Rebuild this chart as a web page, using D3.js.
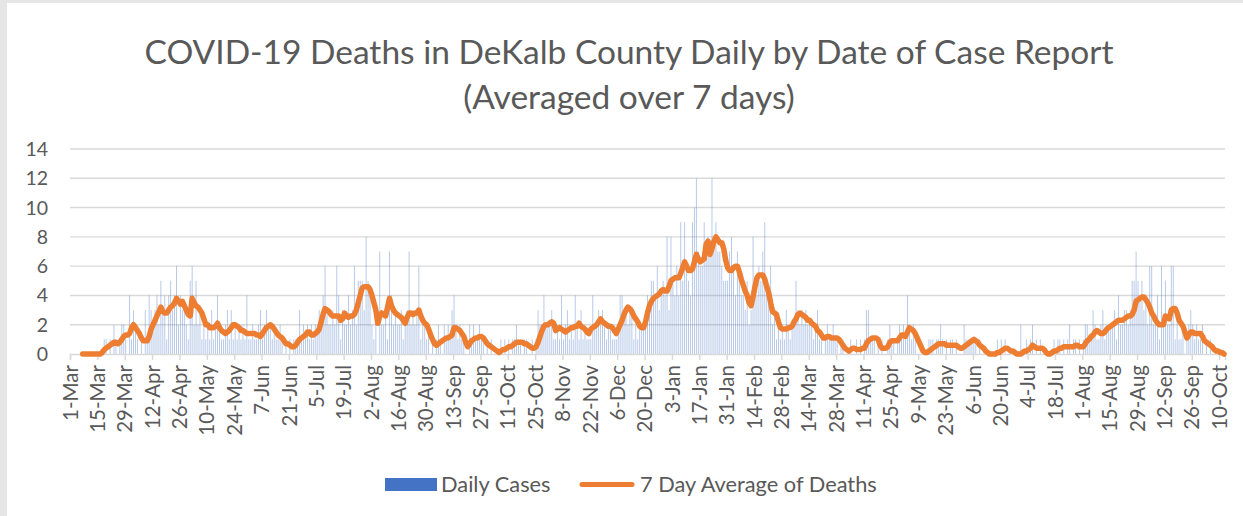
<!DOCTYPE html>
<html>
<head>
<meta charset="utf-8">
<script src="https://cdn.jsdelivr.net/npm/d3@7"></script>
<style>
    html, body { margin: 0; padding: 0; background: #e6e6e6; }
    svg { display: block; }
</style>
</head>
<body>
<div id="chart"></div>
<script>
// daily values start 1-Mar-2020, one per day
var dailyStart = Date.UTC(2020, 2, 1);
var dailyDeaths = [
    0,0,0,0,0,0,0,0,0,0,0,0,0,0,
    0,0,0,1,1,0,1,0,2,1,0,1,2,2,
    1,0,4,1,3,2,1,0,1,0,3,1,4,3,
    2,3,4,2,5,3,4,1,4,5,3,4,6,2,
    4,3,3,2,1,5,6,2,5,2,3,1,2,1,
    2,1,3,1,2,4,2,1,1,2,3,1,3,1,
    2,1,2,1,2,1,4,1,1,2,1,1,2,3,
    1,2,3,2,2,1,2,1,1,2,1,0,1,0,
    1,0,1,1,1,3,1,2,1,2,1,2,1,2,
    2,3,2,4,6,3,2,2,3,2,6,4,1,3,
    2,2,4,2,3,6,2,5,5,5,3,8,5,4,
    2,1,3,0,7,2,2,3,1,7,4,2,3,2,
    2,3,1,2,3,7,2,3,2,3,6,1,2,2,
    1,2,0,1,0,1,2,1,0,2,1,2,1,3,
    4,2,1,2,1,1,0,0,2,1,2,1,1,2,
    1,1,0,1,0,1,0,0,0,0,1,0,1,0,
    1,0,1,1,2,1,1,0,1,1,0,0,1,0,
    1,3,2,2,4,2,2,2,3,1,1,2,1,4,
    1,2,3,1,2,1,4,2,1,3,1,2,1,1,
    1,4,2,2,3,2,3,2,1,2,2,1,1,1,
    2,4,4,3,3,2,3,3,1,2,1,2,2,2,
    3,4,3,5,5,4,6,3,4,5,4,8,3,8,
    5,4,6,4,9,5,9,6,5,4,9,10,12,7,
    6,6,9,7,8,7,12,8,9,7,7,6,5,5,
    5,7,8,6,4,7,6,4,4,3,5,2,3,8,
    5,4,6,5,7,9,5,4,6,2,3,1,2,1,
    2,1,3,2,1,2,2,5,3,2,3,2,3,2,
    2,2,1,2,3,1,1,0,1,2,1,1,2,1,
    1,0,1,1,0,0,0,1,0,0,1,0,1,0,
    1,3,3,1,1,1,0,1,0,1,0,0,1,2,
    1,1,0,1,2,1,2,1,4,2,1,2,1,0,
    0,0,0,0,0,1,1,1,0,1,1,2,1,0,
    1,0,1,1,0,1,0,0,0,2,1,1,1,1,
    1,1,0,1,0,0,0,0,0,0,0,0,1,0,
    1,0,1,0,0,0,0,0,0,0,2,0,0,1,
    0,1,2,0,1,0,1,0,0,0,0,0,0,1,
    0,1,1,0,1,0,1,2,0,1,1,0,1,0,
    1,2,2,1,1,3,2,1,1,2,3,1,2,2,
    2,2,3,1,4,2,2,3,3,2,3,5,5,7,
    5,4,5,3,4,2,6,6,2,2,4,1,6,2,
    5,2,2,6,6,1,3,1,1,2,0,1,2,3,
    2,1,2,1,1,2,0,1,0,1,0,0,0,0,
    0,0,0
];

// 7 day average starts 7-Mar-2020
var avgStart = Date.UTC(2020, 2, 7);
var avgDeaths = [
    0,0,0,0,0,0,0,0,
    0,0,0.1,0.3,0.4,0.5,0.6,0.7,0.8,0.8,0.7,0.8,1.0,1.2,
    1.3,1.3,1.4,1.8,2.0,1.8,1.6,1.4,1.1,0.9,0.9,0.9,1.2,1.7,
    2.0,2.3,2.6,2.9,3.2,2.9,2.8,2.8,3.0,3.2,3.3,3.5,3.8,3.6,
    3.4,3.6,3.3,3.0,2.7,2.6,3.8,3.5,3.3,3.2,3.0,2.8,2.4,2.0,
    2.0,1.8,1.8,1.8,1.9,2.1,1.8,1.6,1.5,1.4,1.5,1.6,1.8,2.0,
    2.0,1.9,1.8,1.6,1.6,1.5,1.4,1.4,1.4,1.4,1.4,1.3,1.3,1.2,
    1.4,1.6,1.8,1.9,2.0,1.9,1.7,1.5,1.3,1.2,1.1,0.9,0.7,0.7,
    0.6,0.5,0.5,0.6,0.8,1.0,1.1,1.2,1.3,1.5,1.5,1.3,1.3,1.4,
    1.5,1.7,2.2,2.7,3.1,3.0,2.9,2.7,2.6,2.6,2.6,2.6,2.3,2.4,
    2.8,2.6,2.5,2.6,2.6,2.7,3.0,3.5,4.0,4.5,4.6,4.6,4.6,4.4,
    4.0,3.5,3.0,2.1,2.6,2.8,2.7,2.6,3.2,3.8,3.3,3.0,2.8,2.7,
    2.6,2.5,2.3,2.1,2.5,2.8,2.8,2.7,2.8,2.8,3.0,2.6,2.3,2.1,
    2.0,1.7,1.3,1.0,0.7,0.6,0.7,0.8,0.9,1.0,1.1,1.1,1.2,1.3,
    1.8,1.8,1.7,1.6,1.4,1.2,0.8,0.5,0.7,0.9,1.0,1.1,1.1,1.2,
    1.2,1.1,0.9,0.7,0.6,0.5,0.4,0.3,0.2,0.1,0.2,0.3,0.3,0.4,
    0.5,0.5,0.6,0.7,0.8,0.8,0.8,0.8,0.7,0.7,0.6,0.5,0.4,0.4,
    0.5,0.8,1.2,1.6,1.9,2.0,2.0,2.1,2.2,2.1,1.6,1.7,1.8,1.7,
    1.6,1.5,1.6,1.7,1.8,1.8,1.9,1.9,2.1,1.9,1.8,1.7,1.5,1.4,
    1.7,1.8,1.9,2.0,2.2,2.4,2.2,2.1,2.0,1.9,1.9,1.8,1.6,1.4,
    1.7,2.0,2.3,2.7,3.0,3.2,3.1,2.9,2.6,2.4,2.2,1.9,1.8,1.8,
    2.2,2.8,3.3,3.6,3.8,3.9,4.0,4.1,4.3,4.4,4.3,4.3,4.6,5.0,
    5.1,5.2,5.2,5.2,5.5,5.9,6.3,6.0,5.7,5.7,5.8,6.3,6.8,6.5,
    6.3,6.4,6.5,7.5,7.7,6.8,7.2,7.7,8.0,7.8,7.6,7.6,7.2,6.4,
    5.9,5.7,5.7,5.9,6.0,6.0,5.6,5.1,4.7,4.3,4.0,3.5,3.3,3.9,
    4.6,5.2,5.4,5.4,5.4,5.1,4.6,4.2,3.5,2.9,2.8,2.7,2.2,1.8,
    1.7,1.7,1.7,1.8,1.8,1.9,2.2,2.4,2.7,2.8,2.7,2.6,2.5,2.3,
    2.3,2.1,2.0,1.9,1.6,1.5,1.3,1.1,1.1,1.2,1.2,1.1,1.1,1.1,
    1.1,1.0,0.8,0.6,0.4,0.3,0.2,0.3,0.4,0.4,0.3,0.3,0.3,0.4,
    0.4,0.7,0.9,1.0,1.1,1.1,1.1,1.0,0.6,0.4,0.4,0.4,0.5,0.8,
    0.9,0.9,0.9,0.9,1.1,1.3,1.3,1.2,1.5,1.8,1.7,1.6,1.4,1.1,
    0.8,0.5,0.2,0.1,0.1,0.2,0.3,0.4,0.5,0.6,0.7,0.7,0.7,0.7,
    0.6,0.6,0.6,0.6,0.6,0.6,0.5,0.4,0.4,0.5,0.6,0.7,0.8,0.9,
    1.0,0.9,0.8,0.6,0.5,0.4,0.2,0.1,0.0,0.0,0.0,0.0,0.1,0.1,
    0.2,0.3,0.4,0.4,0.3,0.2,0.2,0.1,0.0,0.0,0.0,0.1,0.2,0.2,
    0.3,0.4,0.6,0.5,0.4,0.4,0.4,0.4,0.3,0.1,0.0,0.0,0.1,0.2,
    0.2,0.3,0.4,0.4,0.5,0.5,0.5,0.5,0.5,0.5,0.6,0.6,0.5,0.5,
    0.5,0.7,0.9,1.0,1.2,1.3,1.5,1.6,1.5,1.4,1.4,1.5,1.7,1.8,
    1.9,2.0,2.1,2.2,2.3,2.3,2.3,2.4,2.5,2.6,2.6,2.7,3.0,3.6,
    3.7,3.8,3.9,3.9,3.7,3.5,3.2,2.8,2.6,2.3,2.1,2.0,2.0,2.0,
    2.6,2.5,2.4,3.0,3.1,3.1,2.8,2.3,2.1,1.9,1.5,1.1,1.3,1.5,
    1.5,1.4,1.4,1.4,1.4,1.2,0.9,0.8,0.7,0.6,0.5,0.3,0.2,0.2,
    0.1,0.1,0.0
];

var tickLabels = ["1-Mar","15-Mar","29-Mar","12-Apr","26-Apr","10-May","24-May","7-Jun","21-Jun",
    "5-Jul","19-Jul","2-Aug","16-Aug","30-Aug","13-Sep","27-Sep","11-Oct","25-Oct","8-Nov","22-Nov",
    "6-Dec","20-Dec","3-Jan","17-Jan","31-Jan","14-Feb","28-Feb","14-Mar","28-Mar","11-Apr","25-Apr",
    "9-May","23-May","6-Jun","20-Jun","4-Jul","18-Jul","1-Aug","15-Aug","29-Aug","12-Sep","26-Sep","10-Oct"];
var yTicks = [0, 2, 4, 6, 8, 10, 12, 14];

var titleLines = ["COVID-19 Deaths in DeKalb County Daily by Date of Case Report", "(Averaged over 7 days)"];
var seriesNames = ["Daily Cases", "7 Day Average of Deaths"];

var width = 1243,
    height = 516,
    margin = {top: 149, right: 18, bottom: 162, left: 70},
    DAY = 864e5,
    textColor = "#595959",
    gridColor = "#d9d9d9",
    barColor = "#4472C4",
    lineColor = "#ED7D31",
    font = "Lato, 'Open Sans', sans-serif";

var svg = d3.select("#chart").append("svg")
    .attr("width", width)
    .attr("height", height);

svg.append("rect")
    .attr("x", 7).attr("y", 3)
    .attr("width", width - 7).attr("height", height - 3)
    .attr("fill", "#fff");

var x = d3.scaleUtc()
    .domain([new Date(dailyStart), new Date(dailyStart + dailyDeaths.length * DAY)])
    .range([margin.left, width - margin.right]);

var y = d3.scaleLinear()
    .domain([0, 14])
    .range([height - margin.bottom, margin.top]);

// title
svg.append("g").selectAll("text")
    .data(titleLines)
    .enter().append("text")
    .attr("x", 629)
    .attr("y", function(d, i) { return 64 + i * 45; })
    .attr("text-anchor", "middle")
    .attr("fill", textColor)
    .style("font-family", font)
    .style("font-size", "33.5px")
    .text(function(d) { return d; });

// gridlines
svg.append("g").selectAll("line")
    .data(yTicks.slice(1))
    .enter().append("line")
    .attr("x1", x.range()[0]).attr("x2", x.range()[1])
    .attr("y1", function(d) { return y(d); })
    .attr("y2", function(d) { return y(d); })
    .attr("stroke", gridColor)
    .attr("stroke-width", 1.4);

svg.append("g").selectAll("text")
    .data(yTicks)
    .enter().append("text")
    .attr("x", 48)
    .attr("y", function(d) { return y(d); })
    .attr("dy", "0.36em")
    .attr("text-anchor", "end")
    .attr("fill", textColor)
    .style("font-family", font)
    .style("font-size", "19.5px")
    .text(function(d) { return d; });

// daily bars
var dailyData = dailyDeaths.map(function(v, i) {
    return {date: new Date(dailyStart + i * DAY + DAY / 2), value: v};
});

svg.append("g").selectAll("rect")
    .data(dailyData.filter(function(d) { return d.value > 0; }))
    .enter().append("rect")
    .attr("x", function(d) { return x(d.date) - 0.45; })
    .attr("width", 0.9)
    .attr("y", function(d) { return y(d.value); })
    .attr("height", function(d) { return y(0) - y(d.value); })
    .attr("fill", barColor)
    .attr("fill-opacity", 0.42);

// x axis
var tickDates = tickLabels.map(function(t, i) { return new Date(dailyStart + i * 14 * DAY); });

var xAxis = d3.axisBottom(x)
    .tickValues(tickDates)
    .tickSize(6)
    .tickPadding(7)
    .tickFormat(function(d, i) { return tickLabels[i]; });

var gx = svg.append("g")
    .attr("transform", "translate(0," + y(0) + ")")
    .call(xAxis);

gx.select(".domain").attr("stroke", gridColor).attr("stroke-width", 1.4);
gx.selectAll(".tick line").attr("stroke", gridColor).attr("stroke-width", 1.4);
gx.selectAll(".tick text")
    .attr("fill", textColor)
    .style("font-family", font)
    .style("font-size", "20.5px")
    .attr("text-anchor", "end")
    .attr("transform", "rotate(-90)")
    .attr("x", -11)
    .attr("y", 0)
    .attr("dy", "0.35em");

// 7 day average line
var avgData = avgDeaths.map(function(v, i) {
    return {date: new Date(avgStart + i * DAY + DAY / 2), value: v};
});

var line = d3.line()
    .x(function(d) { return x(d.date); })
    .y(function(d) { return y(d.value); });

svg.append("path")
    .datum(avgData)
    .attr("d", line)
    .attr("fill", "none")
    .attr("stroke", lineColor)
    .attr("stroke-width", 5.5)
    .attr("stroke-linejoin", "round")
    .attr("stroke-linecap", "round");

// legend
var legend = svg.append("g");

legend.append("rect")
    .attr("x", 385).attr("y", 478)
    .attr("width", 52).attr("height", 13)
    .attr("fill", barColor);

legend.append("line")
    .attr("x1", 582).attr("x2", 632)
    .attr("y1", 484.5).attr("y2", 484.5)
    .attr("stroke", lineColor)
    .attr("stroke-width", 5)
    .attr("stroke-linecap", "round");

legend.selectAll("text")
    .data(seriesNames)
    .enter().append("text")
    .attr("x", function(d, i) { return i === 0 ? 441 : 640; })
    .attr("y", 492)
    .attr("fill", textColor)
    .style("font-family", font)
    .style("font-size", "21.8px")
    .text(function(d) { return d; });
</script>
</body>
</html>
